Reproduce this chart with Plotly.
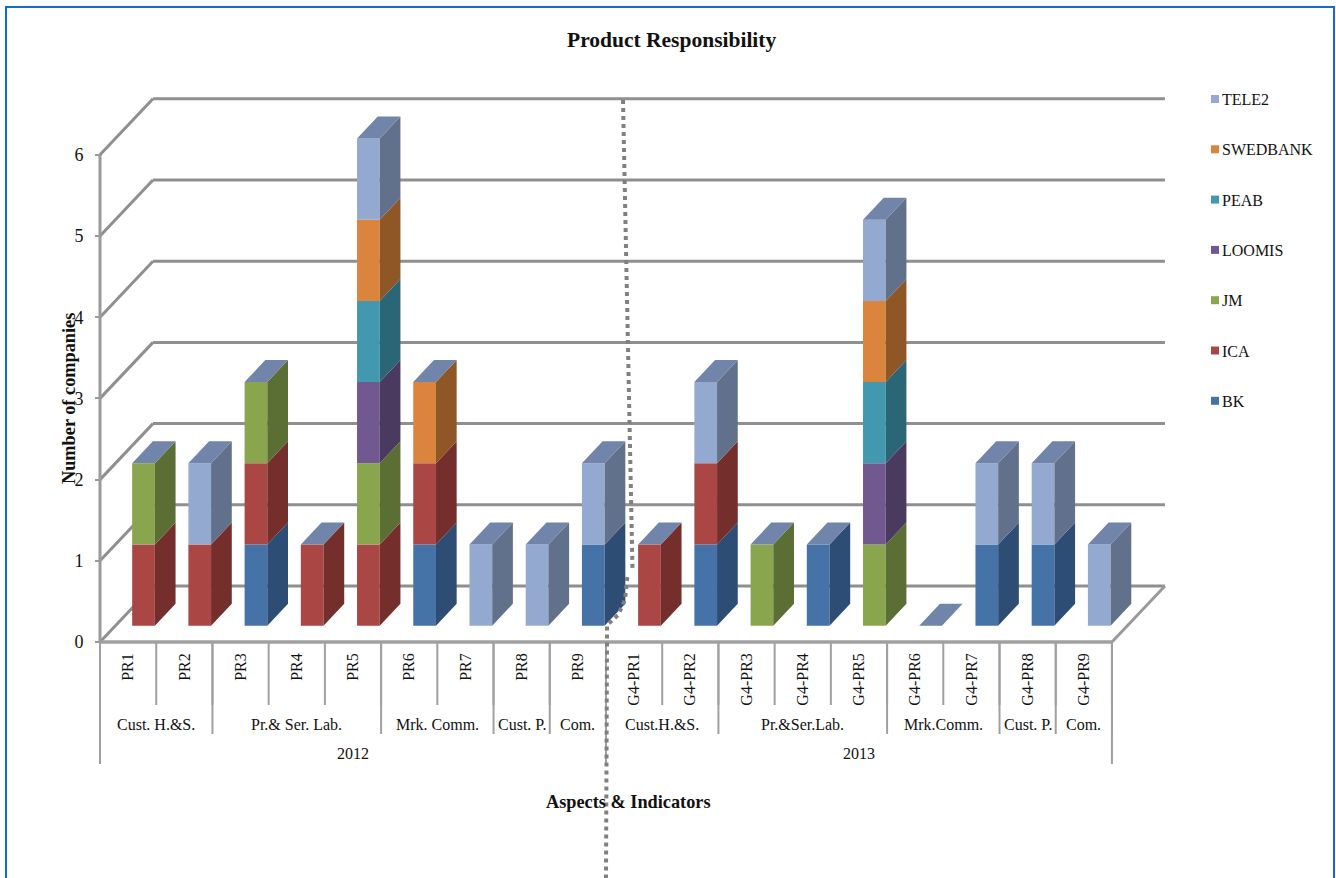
import plotly.graph_objects as go

# Chart content
categories = ["PR1", "PR2", "PR3", "PR4", "PR5", "PR6", "PR7", "PR8", "PR9",
              "G4-PR1", "G4-PR2", "G4-PR3", "G4-PR4", "G4-PR5", "G4-PR6", "G4-PR7", "G4-PR8", "G4-PR9"]
aspects = [("Cust. H.&S.", 2), ("Pr.& Ser. Lab.", 3), ("Mrk. Comm.", 2), ("Cust. P.", 1), ("Com.", 1),
           ("Cust.H.&S.", 2), ("Pr.&Ser.Lab.", 3), ("Mrk.Comm.", 2), ("Cust. P.", 1), ("Com.", 1)]
years = [("2012", 9), ("2013", 9)]

BK       = [0, 0, 1, 0, 0, 1, 0, 0, 1, 0, 1, 0, 1, 0, 0, 1, 1, 0]
ICA      = [1, 1, 1, 1, 1, 1, 0, 0, 0, 1, 1, 0, 0, 0, 0, 0, 0, 0]
JM       = [1, 0, 1, 0, 1, 0, 0, 0, 0, 0, 0, 1, 0, 1, 0, 0, 0, 0]
LOOMIS   = [0, 0, 0, 0, 1, 0, 0, 0, 0, 0, 0, 0, 0, 1, 0, 0, 0, 0]
PEAB     = [0, 0, 0, 0, 1, 0, 0, 0, 0, 0, 0, 0, 0, 1, 0, 0, 0, 0]
SWEDBANK = [0, 0, 0, 0, 1, 1, 0, 0, 0, 0, 0, 0, 0, 1, 0, 0, 0, 0]
TELE2    = [0, 1, 0, 0, 1, 0, 1, 1, 1, 0, 1, 0, 0, 1, 0, 1, 1, 1]

series = [("BK", BK, "#4572a7", "#2d4d75"), ("ICA", ICA, "#aa4643", "#742f2d"),
          ("JM", JM, "#89a54e", "#5b6e33"), ("LOOMIS", LOOMIS, "#71588f", "#4b3a60"),
          ("PEAB", PEAB, "#4198af", "#2a6675"), ("SWEDBANK", SWEDBANK, "#db843d", "#8f5626"),
          ("TELE2", TELE2, "#93a9cf", "#62718b")]
y_ticks = [0, 1, 2, 3, 4, 5, 6]

# Canvas and scale of the oblique projection
W, H = 1336, 878
ORIGIN_X, ORIGIN_Y = 100, 642
CAT_PX, UNIT_PX = 56.22, 81.2
FLOOR_DX, FLOOR_DY = 53 / CAT_PX, 56 / UNIT_PX      # full depth of the floor
BAR_SHIFT_X, BAR_SHIFT_Y = 15.4 / CAT_PX, 16.3 / UNIT_PX  # bar front relative to floor front
BAR_W = 22.7 / CAT_PX
BAR_DX, BAR_DY = 20.7 / CAT_PX, 22 / UNIT_PX        # bar depth
GRID = "#8f8f8f"
FONT = "Liberation Serif"


def px(x):
    return x / W


def py(y):
    return 1 - y / H


fig = go.Figure()
shapes = []


def polyline(xs, ys, color, width):
    # Wall and floor lines sit in the shape layer so the bars cover them
    for x0, y0, x1, y1 in zip(xs, ys, xs[1:], ys[1:]):
        shapes.append(dict(type="line", xref="x", yref="y", x0=x0, y0=y0, x1=x1, y1=y1, layer="below",
                           line=dict(color=color, width=width)))


# Back wall and side wall gridlines
n = len(categories)
for k in y_ticks:
    polyline([0, FLOOR_DX, n + FLOOR_DX], [k, k + FLOOR_DY, k + FLOOR_DY], GRID, 3)
polyline([n, n + FLOOR_DX], [0, FLOOR_DY], "#9a9a9a", 3)
polyline([0, n], [0, 0], "#a0a0a0", 3.5)
polyline([0, 0], [y_ticks[0], y_ticks[-1]], "#9a9a9a", 3)

# Category separators below the floor, one depth per hierarchy level
SEP = "#a0a0a0"
LEVEL_DEPTH = [63 / UNIT_PX, 92 / UNIT_PX, 122 / UNIT_PX]
for i in range(n + 1):
    polyline([i, i], [0, -LEVEL_DEPTH[0]], SEP, 2)
edge = 0
for name, span in aspects:
    polyline([edge, edge], [0, -LEVEL_DEPTH[1]], SEP, 2)
    edge += span
polyline([edge, edge], [0, -LEVEL_DEPTH[1]], SEP, 2)
edge = 0
for name, span in years + [("", 0)]:
    polyline([edge, edge], [0, -LEVEL_DEPTH[2]], SEP, 2)
    edge += span

# Bars: front faces, then side faces and the closing top face
x_mid = [i + 0.5 + BAR_SHIFT_X for i in range(n)]
stack = [0.0] * n
for name, values, color, side in series:
    base = [s + BAR_SHIFT_Y for s in stack]
    fig.add_trace(go.Bar(x=x_mid, y=values, base=base, width=BAR_W, name=name,
                         marker=dict(color=color, line=dict(width=0)), showlegend=False))
    sx, sy = [], []
    for i, v in enumerate(values):
        if v:
            r = x_mid[i] + BAR_W / 2
            sx += [r, r + BAR_DX, r + BAR_DX, r, r, None]
            sy += [base[i], base[i] + BAR_DY, base[i] + v + BAR_DY, base[i] + v, base[i], None]
    fig.add_trace(go.Scatter(x=sx, y=sy, mode="lines", fill="toself", fillcolor=side,
                             line=dict(width=0), hoverinfo="skip", showlegend=False))
    stack = [s + v for s, v in zip(stack, values)]

tx, ty = [], []
for i, total in enumerate(stack):
    l, r = x_mid[i] - BAR_W / 2, x_mid[i] + BAR_W / 2
    t = total + BAR_SHIFT_Y
    tx += [l, l + BAR_DX, r + BAR_DX, r, l, None]
    ty += [t, t + BAR_DY, t + BAR_DY, t, t, None]
fig.add_trace(go.Scatter(x=tx, y=ty, mode="lines", fill="toself", fillcolor="#7184aa",
                         line=dict(width=0), hoverinfo="skip", showlegend=False))

annotations = []


def label(text, x, y, size=16, bold=False, xref="paper", angle=0, anchor="center"):
    annotations.append(dict(text=f"<b>{text}</b>" if bold else text, x=x, y=y, xref=xref, yref="paper",
                            showarrow=False, textangle=angle, xanchor=anchor, yanchor="middle",
                            font=dict(family=FONT, size=size, color="#111111")))


# Hierarchy labels
edge = 0
for name, span in aspects:
    label(name, edge + span / 2, py(724), xref="x")
    edge += span
edge = 0
for name, span in years:
    label(name, edge + span / 2, py(753), xref="x")
    edge += span

# Titles
label("Product Responsibility", px(671.5), py(40), size=21.5, bold=True)
label("Aspects &amp; Indicators", px(628.5), py(802), size=18.3, bold=True)
label("Number of companies", px(68.5), py(398.5), size=18.3, bold=True, angle=-90)

# Key at the right, top series first
for idx, (name, values, color, side) in enumerate(reversed(series)):
    yc = 99 + 50.3 * idx
    shapes.append(dict(type="rect", xref="paper", yref="paper", x0=px(1211), x1=px(1219),
                       y0=py(yc - 4), y1=py(yc + 4), fillcolor=color, line=dict(width=0)))
    label(name, px(1220), py(yc + 0.5), anchor="left")

# Chart frame
shapes.append(dict(type="rect", xref="paper", yref="paper", x0=px(6), x1=px(1334), y0=py(7), y1=py(900),
                   line=dict(color="#0f6fc0", width=2), layer="above"))

# Hand-drawn dotted divider between the two years, in two pieces
dividers = [[(623, 100), (632.5, 570)],
            [(627.3, 577), (625, 600), (618, 615), (607, 625), (607, 643), (606, 878)]]
for piece in dividers:
    path = "M " + " L ".join(f"{px(a):.5f},{py(b):.5f}" for a, b in piece)
    shapes.append(dict(type="path", xref="paper", yref="paper", path=path, layer="above",
                       line=dict(color="#808080", width=4, dash="4px,4px")))

fig.update_layout(
    width=W, height=H, margin=dict(l=0, r=0, t=0, b=0), autosize=False,
    paper_bgcolor="white", plot_bgcolor="rgba(0,0,0,0)", barmode="overlay", showlegend=False,
    font=dict(family=FONT, size=16, color="#111111"),
    xaxis=dict(domain=[0, 1], range=[-ORIGIN_X / CAT_PX, (W - ORIGIN_X) / CAT_PX], anchor="free",
               position=py(ORIGIN_Y), showgrid=False, zeroline=False, showline=False,
               tickmode="array", tickvals=[i + 0.5 for i in range(n)], ticktext=categories,
               tickangle=-90, ticks="", ticklabelstandoff=7,
               tickfont=dict(family=FONT, size=16, color="#111111")),
    yaxis=dict(domain=[0, 1], range=[-(H - ORIGIN_Y) / UNIT_PX, ORIGIN_Y / UNIT_PX], anchor="free",
               position=px(ORIGIN_X), showgrid=False, zeroline=False, showline=False,
               tickmode="array", tickvals=y_ticks, ticks="outside", ticklen=5, tickwidth=2, tickcolor="#9a9a9a",
               ticklabelstandoff=8, tickfont=dict(family=FONT, size=18, color="#111111")),
    annotations=annotations, shapes=shapes,
)
fig.write_html("out.html")
